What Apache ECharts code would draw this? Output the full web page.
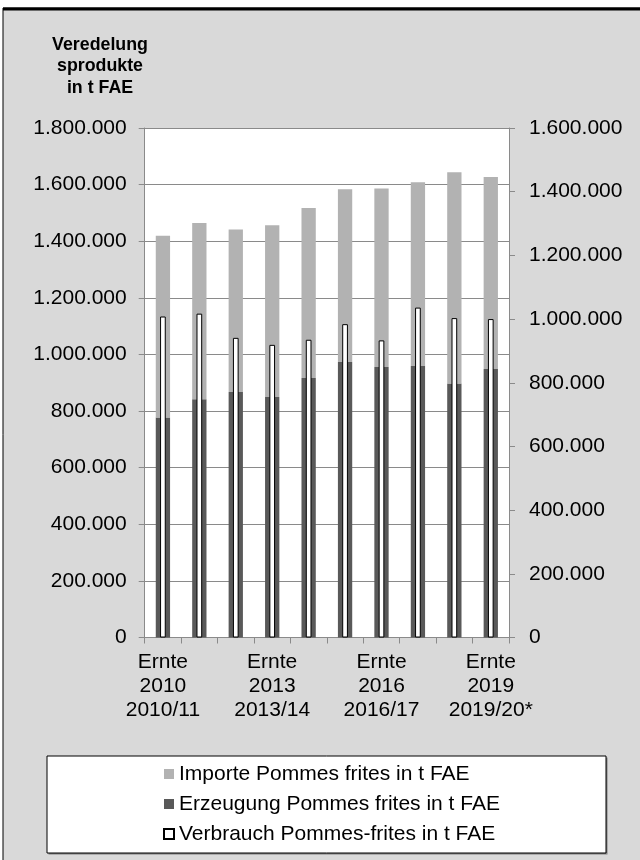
<!DOCTYPE html>
<html>
<head>
<meta charset="utf-8">
<script src="https://cdn.jsdelivr.net/npm/echarts@6/dist/echarts.min.js"></script>
<style>
html,body{margin:0;padding:0;background:#fff;}
#chart{width:640px;height:860px;}
</style>
</head>
<body>
<div id="chart"></div>
<script>
var seasons = ['2010/11','2011/12','2012/13','2013/14','2014/15','2015/16','2016/17','2017/18','2018/19','2019/20*'];
var harvestYears = ['2010','2011','2012','2013','2014','2015','2016','2017','2018','2019'];
var erzeugung = [777000, 842000, 867000, 850000, 917000, 973000, 956000, 959000, 897000, 949000];
var importe = [642000, 622000, 574000, 606000, 600000, 611000, 630000, 649000, 747000, 678000];
var verbrauch = [1008000, 1017000, 941000, 919000, 935000, 984000, 933000, 1036000, 1003000, 1000000];
var leftTicks = {min: 0, max: 1800000, interval: 200000};
var rightTicks = {min: 0, max: 1600000, interval: 200000};

var FONT = 'Liberation Sans, Arial, sans-serif';
var GRID = '#8a8a8a';
function fmt(v){ return String(v).replace(/\B(?=(\d{3})+(?!\d))/g, '.'); }
var catLabels = seasons.map(function(s, i){ return 'Ernte\n' + harvestYears[i] + '\n' + s; });

var chart = echarts.init(document.getElementById('chart'), null, {renderer: 'canvas'});
chart.setOption({
  backgroundColor: '#ffffff',
  animation: false,
  textStyle: {fontFamily: FONT},
  graphic: [
    {type: 'rect', z: -100, shape: {x: 3, y: 8, width: 640, height: 860}, style: {fill: '#d9d9d9', stroke: '#000', lineWidth: 1}},
    {type: 'rect', z: -99, shape: {x: 3, y: 7.5, width: 640, height: 3}, style: {fill: '#000'}},
    {type: 'rect', z: -50, shape: {x: 48.5, y: 757.5, width: 559, height: 97}, style: {fill: '#7f7f7f'}},
    {type: 'rect', z: -49, shape: {x: 47, y: 756, width: 559, height: 97}, style: {fill: '#fff', stroke: '#000', lineWidth: 1}}
  ],
  title: {
    text: 'Veredelung\nsprodukte\nin t FAE',
    left: 100, top: 34, textAlign: 'center', padding: 0,
    textStyle: {fontFamily: FONT, fontSize: 17.8, fontWeight: 'bold', lineHeight: 21.7, color: '#000'}
  },
  legend: {
    data: ['Importe Pommes frites in t FAE', 'Erzeugung Pommes frites in t FAE', 'Verbrauch Pommes-frites in t FAE'],
    orient: 'vertical', left: 163, top: 762, padding: 0, itemGap: 6,
    icon: 'rect', itemWidth: 10, itemHeight: 10,
    textStyle: {fontFamily: FONT, fontSize: 21, lineHeight: 24, color: '#000'},
    selectedMode: false
  },
  grid: {left: 144.7, right: 131, top: 128, bottom: 222.5, show: true, backgroundColor: '#fff', borderWidth: 0},
  xAxis: [
    {
      type: 'category', data: catLabels,
      axisLine: {lineStyle: {color: GRID, width: 1}},
      axisTick: {show: true, interval: 0, length: 6, lineStyle: {color: GRID}},
      axisLabel: {interval: 2, margin: 13, color: '#000', fontFamily: FONT, fontSize: 21, lineHeight: 24},
      splitLine: {show: false}
    },
    {
      type: 'category', data: catLabels, show: false, gridIndex: 0
    }
  ],
  yAxis: [
    {
      type: 'value', min: leftTicks.min, max: leftTicks.max, interval: leftTicks.interval, position: 'left',
      axisLine: {show: true, lineStyle: {color: GRID}},
      axisTick: {show: true, length: 6, lineStyle: {color: GRID}},
      axisLabel: {margin: 18, color: '#000', fontFamily: FONT, fontSize: 21, formatter: fmt},
      splitLine: {show: true, lineStyle: {color: GRID, width: 1}}
    },
    {
      type: 'value', min: rightTicks.min, max: rightTicks.max, interval: rightTicks.interval, position: 'right',
      axisLine: {show: true, lineStyle: {color: GRID}},
      axisTick: {show: true, length: 6, lineStyle: {color: GRID}},
      axisLabel: {margin: 20, color: '#000', fontFamily: FONT, fontSize: 21, formatter: fmt},
      splitLine: {show: false}
    }
  ],
  series: [
    {
      name: 'Erzeugung Pommes frites in t FAE', type: 'bar', stack: 'total', xAxisIndex: 0, yAxisIndex: 0,
      data: erzeugung, barWidth: 14.3, itemStyle: {color: '#595959'}
    },
    {
      name: 'Importe Pommes frites in t FAE', type: 'bar', stack: 'total', xAxisIndex: 0, yAxisIndex: 0,
      data: importe, barWidth: 14.3, itemStyle: {color: '#b2b2b2'}
    },
    {
      name: 'Verbrauch Pommes-frites in t FAE', type: 'bar', xAxisIndex: 1, yAxisIndex: 1,
      data: verbrauch, barWidth: 5.7, z: 3, itemStyle: {color: '#ffffff', borderColor: '#000', borderWidth: 1}
    }
  ]
});
</script>
</body>
</html>
